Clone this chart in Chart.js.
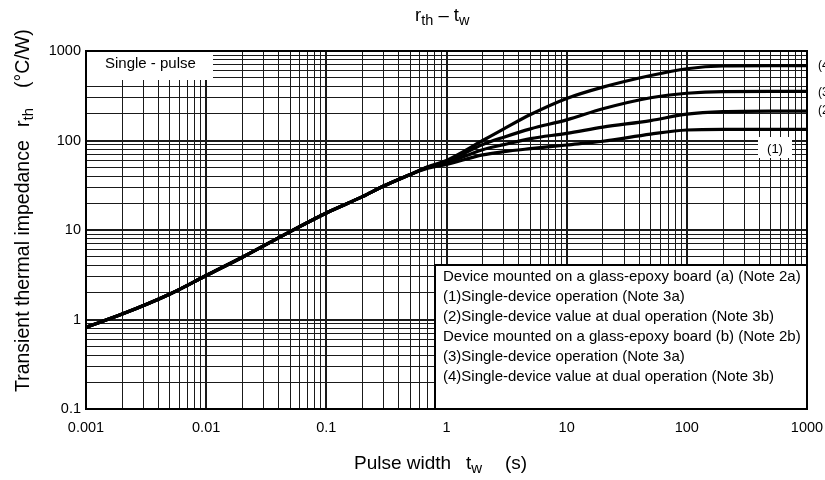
<!DOCTYPE html>
<html>
<head>
<meta charset="utf-8">
<script src="https://cdn.jsdelivr.net/npm/chart.js@4.4.1/dist/chart.umd.min.js"></script>
<style>
  body { margin: 0; background: #fff; }
  #wrap { width: 825px; height: 480px; }
</style>
</head>
<body>
<div id="wrap"><canvas id="rthChart" width="825" height="480"></canvas></div>
<script>
const FONT = "'Liberation Sans', Arial, Helvetica, sans-serif";

// pulse width tw (s)
const tw = [0.001, 0.002, 0.005, 0.01, 0.02, 0.05, 0.1, 0.2, 0.3, 0.5, 0.7, 1, 2, 3, 5, 10, 20, 50, 100, 200, 500, 1000];

// rth (°C/W) - the four curves share the same values below ~0.5 s
const rth1 = [0.82, 1.15, 1.93, 3.1, 4.96, 9.6, 15.5, 23.6, 31, 41.7, 49, 54, 69, 75, 81, 89, 98, 118, 131, 133, 133, 133];
const rth2 = [0.82, 1.15, 1.93, 3.1, 4.96, 9.6, 15.5, 23.6, 31, 41.7, 50, 56, 79, 90, 105, 120, 141, 167, 197, 210, 213, 213];
const rth3 = [0.82, 1.15, 1.93, 3.1, 4.96, 9.6, 15.5, 23.6, 31, 41.7, 50.5, 58, 90, 109, 135, 170, 226, 300, 337, 352, 353, 353];
const rth4 = [0.82, 1.15, 1.93, 3.1, 4.96, 9.6, 15.5, 23.6, 31, 41.7, 51, 60, 100, 135, 195, 295, 395, 533, 634, 680, 685, 685];

const curveTags = ["(1)", "(2)", "(3)", "(4)"];
const xRange = [0.001, 1000];
const yRange = [0.1, 1000];

const noteLines = [
  "Device mounted on a glass-epoxy board (a) (Note 2a)",
  "(1)Single-device operation (Note 3a)",
  "(2)Single-device value at dual operation (Note 3b)",
  "Device mounted on a glass-epoxy board (b) (Note 2b)",
  "(3)Single-device operation (Note 3a)",
  "(4)Single-device value at dual operation (Note 3b)"
];

function isDecade(v) {
  const l = Math.log10(v);
  return Math.abs(l - Math.round(l)) < 1e-9;
}

// 1..9 x 10^n between min and max
function logTicks(min, max) {
  const out = [];
  for (let e = Math.round(Math.log10(min)); e < Math.round(Math.log10(max)); e++) {
    for (let k = 1; k <= 9; k++) out.push(Number((k * Math.pow(10, e)).toPrecision(6)));
  }
  out.push(max);
  return out;
}

function drawRich(ctx, parts, x, y, size, subSize) {
  let cx = x;
  parts.forEach(p => {
    ctx.font = (p.sub ? subSize : size) + "px " + FONT;
    ctx.fillText(p.t, cx, p.sub ? y + size * 0.22 : y);
    cx += ctx.measureText(p.t).width;
  });
}

const overlay = {
  id: "overlay",
  beforeDatasetsDraw(chart) {
    const { ctx, chartArea: a } = chart;
    ctx.save();
    ctx.fillStyle = "#fff";
    // "Single - pulse" label box
    ctx.fillRect(a.left + 1, a.top + 1, 126, 28);
    // (1) tag box
    ctx.fillRect(758, 137, 34, 21);
    // notes box
    ctx.fillRect(434, 264, a.right - 434, a.bottom - 264);
    ctx.strokeStyle = "#000";
    ctx.lineWidth = 2;
    ctx.strokeRect(435, 265, a.right - 435, a.bottom - 265);

    ctx.fillStyle = "#000";
    ctx.textBaseline = "middle";
    ctx.textAlign = "left";
    ctx.font = "15px " + FONT;
    ctx.fillText("Single - pulse", a.left + 19, a.top + 13);
    noteLines.forEach((s, i) => ctx.fillText(s, 443, 277 + i * 20));
    ctx.font = "13px " + FONT;
    ctx.textAlign = "center";
    ctx.fillText(curveTags[0], 775, 149);
    ctx.restore();
  },
  afterDraw(chart) {
    const { ctx, chartArea: a } = chart;
    ctx.save();
    ctx.strokeStyle = "#000";
    ctx.lineWidth = 2;
    ctx.strokeRect(a.left, a.top, a.right - a.left, a.bottom - a.top);

    ctx.fillStyle = "#000";
    ctx.textBaseline = "middle";
    ctx.font = "12px " + FONT;
    ctx.fillText(curveTags[3], 818, 66);
    ctx.fillText(curveTags[2], 818, 93);
    ctx.fillText(curveTags[1], 818, 111);

    ctx.textBaseline = "alphabetic";
    // title
    drawRich(ctx, [{ t: "r" }, { t: "th", sub: true }, { t: " \u2013 " }, { t: "t" }, { t: "w", sub: true }], 415, 21, 18.5, 14.5);
    // x axis title
    ctx.font = "19px " + FONT;
    ctx.fillText("Pulse width", 354, 469);
    drawRich(ctx, [{ t: "t" }, { t: "w", sub: true }], 466, 469, 19, 15);
    ctx.font = "19px " + FONT;
    ctx.fillText("(s)", 505, 469);
    // y axis title, rotated
    ctx.rotate(-Math.PI / 2);
    ctx.font = "19.5px " + FONT;
    ctx.fillText("Transient thermal impedance", -392, 29);
    drawRich(ctx, [{ t: "r" }, { t: "th", sub: true }], -127, 29, 19.5, 15);
    ctx.font = "19.5px " + FONT;
    ctx.fillText("(\u00B0C/W)", -88, 29);
    ctx.restore();
  }
};

function curve(data) {
  return {
    data: tw.map((x, i) => ({ x: x, y: data[i] })),
    borderColor: "#000",
    borderWidth: 3.2,
    pointRadius: 0,
    fill: false,
    cubicInterpolationMode: "monotone"
  };
}

const gridOpts = {
  color: "#1a1a1a",
  lineWidth: c => (c.tick && isDecade(c.tick.value) ? 2 : 1),
  drawTicks: false
};

new Chart(document.getElementById("rthChart"), {
  type: "line",
  data: { datasets: [curve(rth1), curve(rth2), curve(rth3), curve(rth4)] },
  options: {
    responsive: false,
    animation: false,
    layout: { padding: { top: 51, right: 18, left: 0, bottom: 0 } },
    plugins: { legend: { display: false }, tooltip: { enabled: false }, title: { display: false } },
    scales: {
      x: {
        type: "logarithmic",
        min: xRange[0],
        max: xRange[1],
        afterBuildTicks: s => { s.ticks = logTicks(xRange[0], xRange[1]).map(v => ({ value: v })); },
        afterFit: s => { s.height = 71; s.paddingLeft = 0; s.paddingRight = 0; },
        grid: gridOpts,
        border: { color: "#000", width: 2 },
        ticks: {
          autoSkip: false, maxRotation: 0, padding: 10, color: "#000",
          font: { family: FONT, size: 14.5 },
          callback: v => (isDecade(v) ? String(v) : "")
        }
      },
      y: {
        type: "logarithmic",
        min: yRange[0],
        max: yRange[1],
        afterBuildTicks: s => { s.ticks = logTicks(yRange[0], yRange[1]).map(v => ({ value: v })); },
        afterFit: s => { s.width = 86; s.paddingTop = 0; s.paddingBottom = 0; },
        grid: gridOpts,
        border: { color: "#000", width: 2 },
        ticks: {
          autoSkip: false, padding: 5, color: "#000",
          font: { family: FONT, size: 14.5 },
          callback: v => (isDecade(v) ? String(v) : "")
        }
      }
    }
  },
  plugins: [overlay]
});
</script>
</body>
</html>
